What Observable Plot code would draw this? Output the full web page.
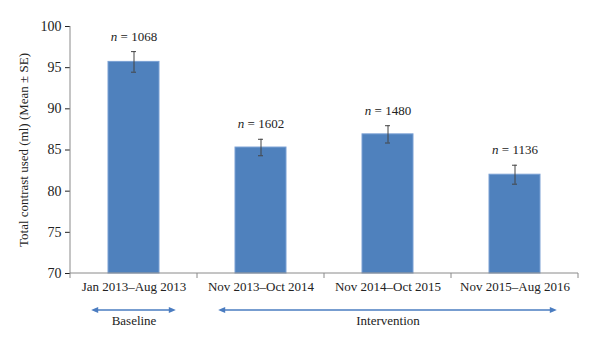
<!DOCTYPE html>
<html><head><meta charset="utf-8">
<script src="https://cdn.jsdelivr.net/npm/d3@7"></script>
<script src="https://cdn.jsdelivr.net/npm/@observablehq/plot@0.6"></script>
<style>body{margin:0;background:#fff}</style>
</head><body><div id="chart"></div>
<script>
const periods = ["Jan 2013–Aug 2013", "Nov 2013–Oct 2014", "Nov 2014–Oct 2015", "Nov 2015–Aug 2016"];
const means = [95.7, 85.3, 86.9, 82.0];
const errors = [1.25, 1.0, 1.05, 1.15];
const counts = [1068, 1602, 1480, 1136];
const yTicks = [70, 75, 80, 85, 90, 95, 100];
const phases = ["Baseline", "Intervention"];
const phaseStart = ["Jan 2013–Aug 2013", "Nov 2013–Oct 2014"];
const phaseEnd = ["Jan 2013–Aug 2013", "Nov 2015–Aug 2016"];
const phaseLabelAt = ["Jan 2013–Aug 2013", "Nov 2014–Oct 2015"];
const yLabel = "Total contrast used (ml) (Mean ± SE)";

const rows = periods.map((p, i) => ({period: p, mean: means[i], se: errors[i], n: counts[i]}));
const phaseRows = phases.map((p, i) => ({phase: p, start: phaseStart[i], end: phaseEnd[i], at: phaseLabelAt[i]}));

const axisColor = "#8a8a8a";
const arrowColor = "#4a7cc0";

function decorations(index, scales, values, dims) {
  const x = scales.x;
  const bw = x.bandwidth ? x.bandwidth() : 50;
  const step = x.step ? x.step() : 127;
  const g = d3.create("svg:g");
  const x0 = dims.marginLeft, x1 = dims.width - dims.marginRight;
  const yb = dims.height - dims.marginBottom, yt = dims.marginTop;
  g.append("line").attr("x1", x0).attr("x2", x0).attr("y1", yt).attr("y2", yb)
    .attr("stroke", axisColor);
  g.append("line").attr("x1", x0).attr("x2", x1).attr("y1", yb).attr("y2", yb)
    .attr("stroke", axisColor);
  const bounds = periods.map(p => x(p) - (step - bw) / 2);
  bounds.push(x(periods[periods.length - 1]) + bw + (step - bw) / 2);
  for (const b of bounds) {
    g.append("line").attr("x1", b).attr("x2", b).attr("y1", yb).attr("y2", yb + 5)
      .attr("stroke", axisColor);
  }
  const ya = yb + 37;
  const ext = bw * 0.83;
  for (const r of phaseRows) {
    const a = x(r.start) + bw / 2 - ext;
    const b = x(r.end) + bw / 2 + ext;
    g.append("line").attr("x1", a + 4).attr("x2", b - 4).attr("y1", ya).attr("y2", ya)
      .attr("stroke", arrowColor).attr("stroke-width", 1.5);
    g.append("path").attr("d", `M${a},${ya}L${a + 7},${ya - 3}L${a + 7},${ya + 3}Z`).attr("fill", arrowColor);
    g.append("path").attr("d", `M${b},${ya}L${b - 7},${ya - 3}L${b - 7},${ya + 3}Z`).attr("fill", arrowColor);
  }
  return g.node();
}

const chart = Plot.plot({
  width: 600,
  height: 349,
  marginLeft: 70,
  marginRight: 22,
  marginTop: 26,
  marginBottom: 76,
  style: {fontFamily: "'Liberation Serif', 'DejaVu Serif', serif", fontSize: "13px", color: "#222", background: "#fff"},
  x: {domain: periods, paddingInner: 0.6, paddingOuter: 0.3, label: null, tickSize: 0, tickPadding: 8},
  y: {domain: [70, 100], ticks: yTicks, tickSize: 5, tickPadding: 4, label: null},
  marks: [
    Plot.barY(rows, {x: "period", y1: 70, y2: "mean", fill: "#4f81bd", stroke: "#7aa0d4", strokeWidth: 1}),
    Plot.ruleX(rows, {x: "period", y1: d => d.mean - d.se, y2: d => d.mean + d.se, stroke: "#444", strokeWidth: 1}),
    Plot.tickY(rows, {x: "period", y: d => d.mean + d.se, stroke: "#444", insetLeft: 23, insetRight: 23}),
    Plot.tickY(rows, {x: "period", y: d => d.mean - d.se, stroke: "#444", insetLeft: 23, insetRight: 23}),
    Plot.text(rows, {x: "period", y: d => d.mean + d.se, text: d => `n = ${d.n}`, dy: -11, lineAnchor: "bottom", fill: "#222", className: "nlabel"}),
    Plot.text(phaseRows, {x: "at", text: "phase", frameAnchor: "bottom", dy: 51, fill: "#222"}),
    Plot.text([yLabel], {text: d => d, frameAnchor: "left", textAnchor: "middle", rotate: -90, dx: -47, fill: "#222"}),
    decorations
  ]
});
document.getElementById("chart").appendChild(chart);

d3.select(chart).selectAll("g[aria-label='y-axis tick label'] text, g[aria-label='y-axis'] text").style("font-size", "14px");

d3.select(chart).selectAll("g.nlabel text").each(function () {
  const t = d3.select(this);
  const s = t.text();
  t.text(null);
  t.append("tspan").attr("font-style", "italic").text("n");
  t.append("tspan").text(s.slice(1));
});
</script>
</body></html>
